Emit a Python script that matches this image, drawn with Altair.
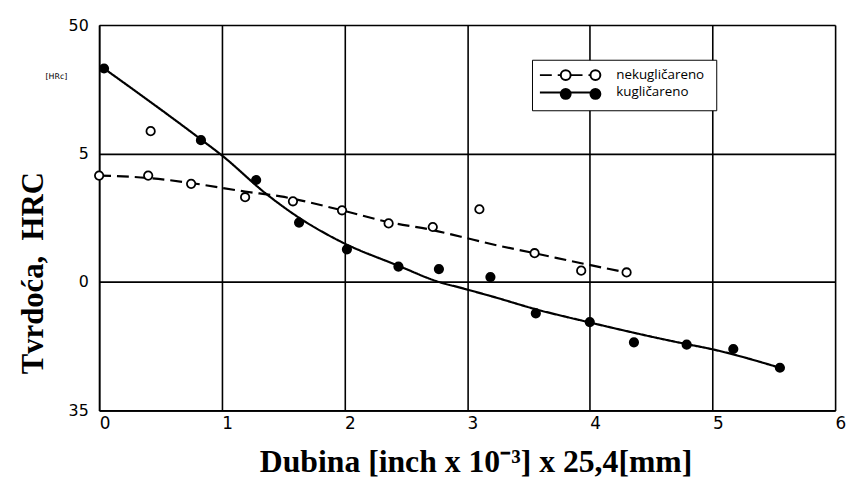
import altair as alt
import pandas as pd

# ---- data ----
serije = ["nekugličareno", "kugličareno"]

# measured points, nekugličareno (open circles)
neku_x = [0.0, 0.40, 0.42, 0.75, 1.19, 1.58, 1.98, 2.36, 2.72, 3.10, 3.55, 3.93, 4.30]
neku_y = [44.14, 44.14, 45.87, 43.82, 43.30, 43.14, 42.79, 42.28, 42.14, 42.83, 41.12, 40.44, 40.37]

# measured points, kugličareno (filled circles)
kug_x = [0.04, 0.83, 1.28, 1.63, 2.02, 2.44, 2.77, 3.19, 3.56, 4.00, 4.36, 4.79, 5.17, 5.55]
kug_y = [48.31, 45.52, 43.97, 42.31, 41.27, 40.60, 40.50, 40.19, 38.78, 38.44, 37.65, 37.56, 37.39, 36.66]

# fitted curves as drawn in the reference
neku_fit_x = [0.0, 0.40, 0.75, 1.19, 1.48, 1.98, 2.36, 2.72, 2.95, 3.23, 3.55, 3.95, 4.30]
neku_fit_y = [44.14, 44.05, 43.85, 43.52, 43.33, 42.79, 42.33, 42.02, 41.76, 41.44, 41.12, 40.71, 40.37]
kug_fit_x = [0.04, 0.83, 1.00, 1.37, 1.63, 1.97, 2.44, 2.77, 2.95, 3.23, 3.55, 3.95, 4.79, 4.96, 5.55]
kug_fit_y = [48.31, 45.55, 44.93, 43.40, 42.50, 41.57, 40.63, 40.00, 39.77, 39.40, 38.95, 38.48, 37.58, 37.42, 36.66]

x_ticks = [0, 1, 2, 3, 4, 5, 6]
y_ticks = [35, 40, 45, 50]
y_tick_labels = ["35", "0", "5", "50"]

x_title = "Dubina [inch x 10\u207b\u00b3] x 25,4[mm]"
y_title = "Tvrdoća,\u00a0 HRC"
hr_note = "[HRc]"

# ---- tables ----
tocke = pd.DataFrame({
    "x": neku_x + kug_x,
    "y": neku_y + kug_y,
    "serija": [serije[0]] * len(neku_x) + [serije[1]] * len(kug_x),
})
tocke["serija2"] = tocke["serija"]

krivulje = pd.DataFrame({
    "x": neku_fit_x + kug_fit_x,
    "y": neku_fit_y + kug_fit_y,
    "serija": [serije[0]] * len(neku_fit_x) + [serije[1]] * len(kug_fit_x),
})

label_expr = " : ".join(
    [f"datum.value == {v} ? '{t}'" for v, t in zip(y_ticks, y_tick_labels)] + ["datum.label"]
)

x_scale = alt.Scale(domain=[0, 6], nice=False, zero=False)
y_scale = alt.Scale(domain=[35, 50], nice=False, zero=False)

x_axis = alt.Axis(
    values=x_ticks, format="d", grid=True, gridColor="black", gridWidth=1.6, gridOpacity=1,
    domainColor="black", domainWidth=1.6, ticks=False,
    labelFont="DejaVu Sans", labelFontSize=17, labelColor="black",
    labelPadding=5, labelAlign="left", labelFlush=False, labelOverlap=False,
    title=x_title, titleFont="Liberation Serif", titleFontSize=32,
    titleFontWeight="bold", titleColor="black",
    titleX=380, titleY=62, titleBaseline="alphabetic", titleAlign="center",
)
y_axis = alt.Axis(
    values=y_ticks, grid=True, gridColor="black", gridWidth=1.6, gridOpacity=1,
    domainColor="black", domainWidth=1.6, ticks=False,
    labelFont="DejaVu Sans", labelFontSize=16, labelColor="black",
    labelPadding=11, labelExpr=label_expr, labelOverlap=False, labelFlush=False,
    title=y_title, titleFont="Liberation Serif", titleFontSize=31,
    titleFontWeight="bold", titleColor="black",
    titleX=-57, titleY=250, titleAngle=270, titleBaseline="alphabetic", titleAlign="center",
)


# legend glyphs; path unit = sqrt(symbolSize)/2 = 6 px
def _ring(cx, r=0.83, cy=-0.58):
    return (f"M{cx - r:.2f},{cy}A{r},{r} 0 1,1 {cx + r:.2f},{cy}"
            f"A{r},{r} 0 1,1 {cx - r:.2f},{cy}Z")


glyph_line = "M-4.67,-0.58H-1.16M0.5,-0.58H3.84"
glyph_circles = _ring(-0.33) + _ring(4.67)

common_legend = dict(
    title=None, orient="none", legendX=437, legendY=35, direction="vertical",
    symbolSize=144, symbolOffset=17, labelOffset=42, labelBaseline="alphabetic",
    labelFont="Open Sans", labelFontSize=13.5, padding=12,
    symbolStrokeColor="black", symbolStrokeWidth=2, symbolOpacity=1,
)
legend_lines = alt.Legend(
    symbolType=glyph_line, labelColor="black", rowPadding=3.5,
    strokeColor="black", fillColor="white", zindex=0, **common_legend,
)
legend_points = alt.Legend(
    symbolType=glyph_circles, labelExpr="''", labelColor="black", rowPadding=0,
    zindex=1, **common_legend,
)

lines = alt.Chart(krivulje).mark_line(
    interpolate="monotone", color="black", strokeWidth=2.2
).encode(
    x=alt.X("x:Q", scale=x_scale, axis=x_axis),
    y=alt.Y("y:Q", scale=y_scale, axis=y_axis),
    strokeDash=alt.StrokeDash(
        "serija:N", sort=serije, scale=alt.Scale(range=[[12, 6], [1, 0]]),
        legend=legend_lines,
    ),
)

points = alt.Chart(tocke).mark_point(
    filled=True, size=72, stroke="black", strokeWidth=1.8, opacity=1, shape="circle"
).encode(
    x=alt.X("x:Q", scale=x_scale),
    y=alt.Y("y:Q", scale=y_scale),
    fill=alt.Fill(
        "serija2:N", sort=serije, scale=alt.Scale(range=["white", "black"]),
        legend=legend_points,
    ),
)

note = alt.Chart(pd.DataFrame({"t": [hr_note]})).mark_text(
    align="right", baseline="alphabetic", fontSize=8, font="DejaVu Sans", color="black"
).encode(x=alt.value(-32), y=alt.value(54), text="t:N")

chart = alt.layer(lines, points, note).properties(
    width=743, height=389,
    autosize=alt.AutoSizeParams(type="none"),
    padding={"left": 92, "top": 15, "right": 12, "bottom": 66},
).configure_view(
    stroke="black", strokeWidth=1.6
).configure(background="white")

chart.save("out.html", embed_options={"renderer": "svg", "actions": False})
